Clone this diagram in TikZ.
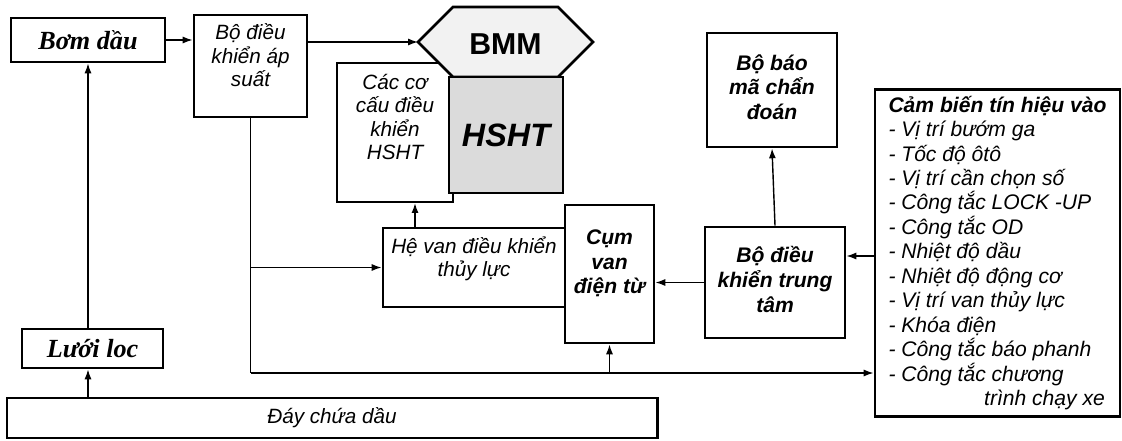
\documentclass[tikz,border=0pt]{standalone}
\usepackage{fontspec}
\setmainfont{Liberation Sans}
\newfontfamily\timesfont{Liberation Serif}
\usetikzlibrary{arrows.meta}

% lines of a box, with the text pushed up by half of #1
\newcommand\boxtext[2][0pt]{\raisebox{0pt}[\height][\dimexpr\depth+#1\relax]{\begin{tabular}{@{}c@{}}#2\end{tabular}}}

\begin{document}
\begin{tikzpicture}[x=0.025cm,y=-0.025cm,
	box/.style={draw, line width=2pt, fill=white, inner sep=0pt},
	arr/.style={line width=1pt, -{Latex[length=7pt,width=5pt]}},
	it/.style={font=\fontsize{14.7}{16.4}\selectfont\itshape},
	bi/.style={font=\fontsize{15}{17.5}\selectfont\bfseries\itshape},
	serif/.style={font=\fontsize{18.6}{20}\selectfont\timesfont\bfseries\itshape}]
				\useasboundingbox (0,0) rectangle (1122,440);
				% Oil side
				\node[box, serif, minimum width=3.85cm, minimum height=1.1cm] (bom) at (88,40) {Bơm dầu};
				\node[box, serif, minimum width=3.525cm, minimum height=0.975cm] (luoi) at (92.5,348.5) {Lưới loc};
				\node[box, it, minimum width=16.25cm, minimum height=1cm] (day) at (332,418) {Đáy chứa dầu};
				\node[box, it, minimum width=2.825cm, minimum height=2.55cm] (apsuat) at (250.5,66) {\boxtext[11pt]{Bộ điều\\khiển áp\\suất}};
				% Transmission
				\node[box, it, line width=1.6pt, minimum width=2.9cm, minimum height=3.475cm] (coca) at (395,132.5) {\boxtext[18pt]{Các cơ\\cấu điều\\khiển\\HSHT}};
				\draw[line width=2pt, fill=gray!10] (418,42) coordinate (bmml) -- (453,7) -- (558,7) -- (593,42) -- (558,77) -- (453,77) -- cycle;
				\node[font=\fontsize{21.5}{22}\selectfont\bfseries] (bmm) at (505.5,44) {BMM};
				\node[box, fill=gray!28, minimum width=2.85cm, minimum height=2.9cm, font=\fontsize{23}{23}\selectfont\bfseries\itshape] (hsht) at (506,135) {HSHT};
				\node[box, it, minimum width=4.55cm, minimum height=1.975cm] (hevan) at (474,267.5) {\boxtext[11pt]{Hệ van điều khiển\\thủy lực}};
				\node[box, bi, minimum width=2.225cm, minimum height=3.45cm] (cumvan) at (609.5,274) {\boxtext[14pt]{Cụm\\van\\điện từ}};
				% Electronic side
				\node[box, bi, minimum width=3.5cm, minimum height=2.775cm] (trungtam) at (775,282.5) {\boxtext{Bộ điều\\khiển trung\\tâm}};
				\node[box, bi, minimum width=3.25cm, minimum height=2.85cm] (baoma) at (772,90) {\boxtext{Bộ báo\\mã chẩn\\đoán}};
				\node[box, align=left, minimum width=6.125cm, minimum height=8.175cm, font=\fontsize{15}{17.4}\selectfont\itshape] (camb) at (997.5,253)
					{\textbf{Cảm biến tín hiệu vào}\\- Vị trí bướm ga\\- Tốc độ ôtô\\- Vị trí cần chọn số\\- Công tắc LOCK -UP\\- Công tắc OD\\- Nhiệt độ dầu\\- Nhiệt độ động cơ\\- Vị trí van thủy lực\\- Khóa điện\\- Công tắc báo phanh\\- Công tắc chương\\\hspace*{68pt}trình chạy xe};
				% Connectors
				\coordinate (bot) at (0,373);
				\coordinate (hx) at (415,0);
				\coordinate (sy) at (0,256);
				\draw[arr] (day.north -| bom.south) -- (luoi.south -| bom.south);
				\draw[arr] (luoi.north -| bom.south) -- (bom.south);
				\draw[arr] (bom.east) -- (bom.east -| apsuat.west);
				\draw[arr] (apsuat.east |- bmml) -- (bmml);
				\draw[line width=1pt] (apsuat.south) -- (apsuat.south |- bot);
				\draw[arr] (apsuat.south |- bot) -- (camb.west |- bot);
				\draw[arr] (apsuat.south |- hevan.west) -- (hevan.west);
				\draw[arr] (cumvan.south |- bot) -- (cumvan.south);
				\draw[arr] (hevan.north -| hx) -- (coca.south -| hx);
				\draw[arr] (trungtam.west) -- (trungtam.west -| cumvan.east);
				\draw[arr] (camb.west |- sy) -- (trungtam.east |- sy);
				\draw[arr] (trungtam.north) -- (baoma.south);
			\end{tikzpicture}
\end{document}
